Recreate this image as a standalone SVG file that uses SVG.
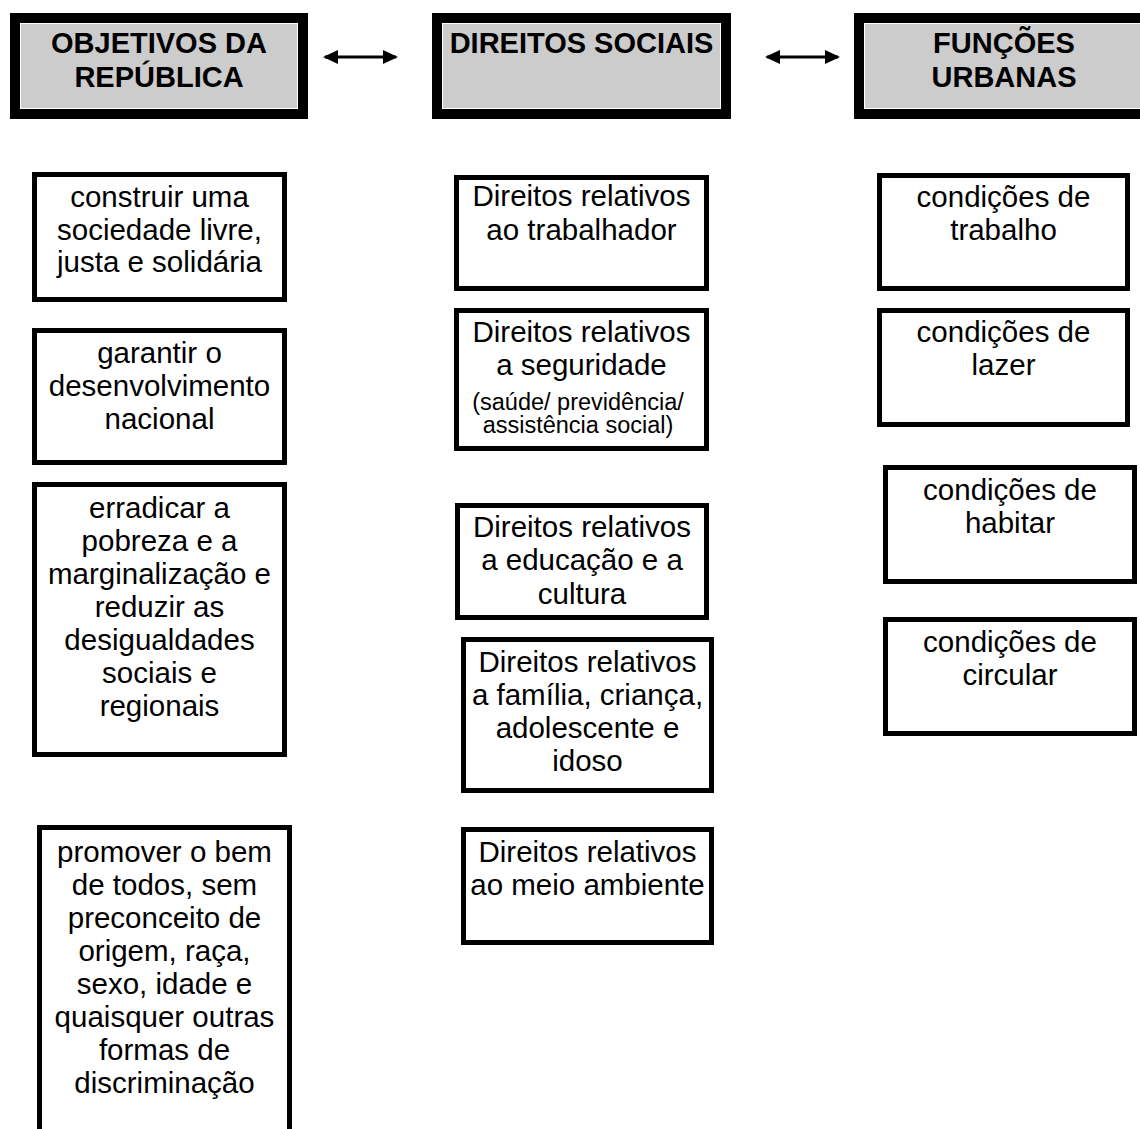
<svg xmlns="http://www.w3.org/2000/svg" width="1140" height="1129" viewBox="0 0 1140 1129">
<style>
text{font-family:"Liberation Sans",Arial,sans-serif;fill:#000;text-anchor:middle}
.h{font-size:29px;font-weight:bold}
.t{font-size:29.5px}
.s{font-size:23.5px}
.box{fill:#fff;stroke:#000;stroke-width:5}
.hb{fill:#000}
.hw{fill:#fff}
.hg{fill:#cccccc}
.conn{stroke:#000;stroke-width:3;fill:none}
</style>
<defs>
<marker id="ah" viewBox="0 0 15 14" refX="13" refY="7" markerWidth="15" markerHeight="14" markerUnits="userSpaceOnUse" orient="auto-start-reverse">
<path d="M0,0 L15,7 L0,14 z" fill="#000"/>
</marker>
</defs>
<rect width="1140" height="1129" fill="#fff"/>
<g id="h1">
<rect class="hb" x="10" y="13" width="298" height="106"/>
<rect class="hw" x="20" y="23" width="278" height="86"/>
<rect class="hg" x="21" y="24" width="276" height="84"/>
<text class="h" x="159" y="53">OBJETIVOS DA</text>
<text class="h" x="159" y="87">REPÚBLICA</text>
</g>
<g id="h2">
<rect class="hb" x="432" y="13" width="299" height="106"/>
<rect class="hw" x="442" y="23" width="279" height="86"/>
<rect class="hg" x="443" y="24" width="277" height="84"/>
<text class="h" x="581.5" y="53">DIREITOS SOCIAIS</text>
</g>
<g id="h3">
<rect class="hb" x="854" y="13" width="300" height="106"/>
<rect class="hw" x="864" y="23" width="280" height="86"/>
<rect class="hg" x="865" y="24" width="278" height="84"/>
<text class="h" x="1004" y="53">FUNÇÕES</text>
<text class="h" x="1004" y="87">URBANAS</text>
</g>
<g id="connectors">
<line class="conn" x1="325" y1="57" x2="396" y2="57" marker-start="url(#ah)" marker-end="url(#ah)"/>
<line class="conn" x1="767" y1="57" x2="838" y2="57" marker-start="url(#ah)" marker-end="url(#ah)"/>
</g>
<g id="o1">
<rect class="box" x="34.5" y="174.5" width="250" height="125"/>
<text class="t" x="159.5" y="207">construir uma</text>
<text class="t" x="159.5" y="240">sociedade livre,</text>
<text class="t" x="159.5" y="272">justa e solidária</text>
</g>
<g id="o2">
<rect class="box" x="34.5" y="330.5" width="250" height="132"/>
<text class="t" x="159.5" y="363">garantir o</text>
<text class="t" x="159.5" y="396">desenvolvimento</text>
<text class="t" x="159.5" y="429">nacional</text>
</g>
<g id="o3">
<rect class="box" x="34.5" y="484.5" width="250" height="270"/>
<text class="t" x="159.5" y="518">erradicar a</text>
<text class="t" x="159.5" y="551">pobreza e a</text>
<text class="t" x="159.5" y="584">marginalização e</text>
<text class="t" x="159.5" y="617">reduzir as</text>
<text class="t" x="159.5" y="650">desigualdades</text>
<text class="t" x="159.5" y="683">sociais e</text>
<text class="t" x="159.5" y="716">regionais</text>
</g>
<g id="o4">
<path d="M39.5,1135 V827.5 H289.5 V1135" fill="#fff" stroke="#000" stroke-width="5"/>
<text class="t" x="164.5" y="862">promover o bem</text>
<text class="t" x="164.5" y="895">de todos, sem</text>
<text class="t" x="164.5" y="928">preconceito de</text>
<text class="t" x="164.5" y="961">origem, raça,</text>
<text class="t" x="164.5" y="994">sexo, idade e</text>
<text class="t" x="164.5" y="1027">quaisquer outras</text>
<text class="t" x="164.5" y="1060">formas de</text>
<text class="t" x="164.5" y="1093">discriminação</text>
</g>
<g id="d1">
<rect class="box" x="456.5" y="177.5" width="250" height="111"/>
<text class="t" x="581.5" y="206">Direitos relativos</text>
<text class="t" x="581.5" y="240">ao trabalhador</text>
</g>
<g id="d2">
<rect class="box" x="456.5" y="310.5" width="250" height="138"/>
<text class="t" x="581.5" y="342">Direitos relativos</text>
<text class="t" x="581.5" y="375">a seguridade</text>
<text class="s" x="578" y="410">(saúde/ previdência/</text>
<text class="s" x="578" y="433">assistência social)</text>
</g>
<g id="d3">
<rect class="box" x="457.5" y="505.5" width="249" height="112"/>
<text class="t" x="582" y="537">Direitos relativos</text>
<text class="t" x="582" y="570">a educação e a</text>
<text class="t" x="582" y="604">cultura</text>
</g>
<g id="d4">
<rect class="box" x="463.5" y="639.5" width="248" height="151"/>
<text class="t" x="587.5" y="672">Direitos relativos</text>
<text class="t" x="587.5" y="705">a família, criança,</text>
<text class="t" x="587.5" y="738">adolescente e</text>
<text class="t" x="587.5" y="771">idoso</text>
</g>
<g id="d5">
<rect class="box" x="463.5" y="829.5" width="248" height="113"/>
<text class="t" x="587.5" y="862">Direitos relativos</text>
<text class="t" x="587.5" y="895">ao meio ambiente</text>
</g>
<g id="f1">
<rect class="box" x="879.5" y="175.5" width="248" height="113"/>
<text class="t" x="1003.5" y="207">condições de</text>
<text class="t" x="1003.5" y="240">trabalho</text>
</g>
<g id="f2">
<rect class="box" x="879.5" y="310.5" width="248" height="114"/>
<text class="t" x="1003.5" y="342">condições de</text>
<text class="t" x="1003.5" y="375">lazer</text>
</g>
<g id="f3">
<rect class="box" x="885.5" y="467.5" width="249" height="114"/>
<text class="t" x="1010" y="500">condições de</text>
<text class="t" x="1010" y="533">habitar</text>
</g>
<g id="f4">
<rect class="box" x="885.5" y="619.5" width="249" height="114"/>
<text class="t" x="1010" y="652">condições de</text>
<text class="t" x="1010" y="685">circular</text>
</g>
</svg>
